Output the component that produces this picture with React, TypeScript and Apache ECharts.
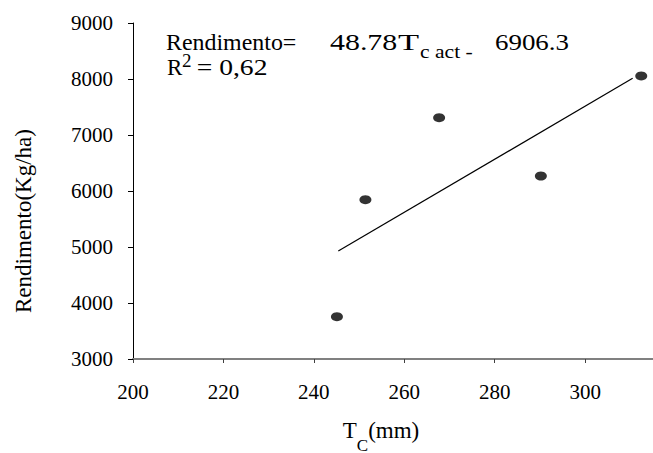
import React, { useEffect, useRef } from "react";
import * as echarts from "echarts";

const FONT = "Liberation Serif";

// Data
const tcValues = [245.1, 251.4, 267.7, 290.2, 312.4];
const yieldValues = [3755, 5845, 7309, 6268, 8054];
const trendX = [245.4, 310.5];
const trendY = [4929, 8012];
const xTickValues = [200, 220, 240, 260, 280, 300];

const yAxisTitle = "Rendimento(Kg/ha)";

export default function App() {
  const ref = useRef<HTMLDivElement>(null);

  useEffect(() => {
    if (!ref.current) return;
    const chart = echarts.init(ref.current, undefined, { renderer: "svg" });

    const scatterData = tcValues.map((x, i) => [x, yieldValues[i]]);
    const trendData = trendX.map((x, i) => [x, trendY[i]]);

    const t = (text: string, x: number, y: number, fontSize: number, scaleX = 1, lineHeight?: number) => ({
      type: "text",
      x,
      y,
      scaleX,
      style: {
        text,
        fontFamily: FONT,
        fontSize,
        lineHeight: lineHeight ?? fontSize,
        fill: "#000",
        align: "left",
        verticalAlign: "middle",
      },
    });

    chart.setOption({
      animation: false,
      backgroundColor: "#fff",
      grid: { left: 133, right: 0, top: 23, bottom: 94, outerBoundsMode: "none" },
      xAxis: {
        type: "value",
        min: 200,
        max: 315,
        axisLine: { show: true, onZero: false, lineStyle: { color: "#808080", width: 2 } },
        axisTick: { show: true, length: 4, lineStyle: { color: "#404040" }, customValues: xTickValues },
        axisLabel: {
          customValues: xTickValues,
          fontFamily: FONT,
          fontSize: 21,
          color: "#000",
          margin: 22,
          formatter: (v: number) => String(v),
        },
        splitLine: { show: false },
        name: "{t|T}{s|C}{t|(mm)}",
        nameLocation: "middle",
        nameGap: 54,
        nameTextStyle: {
          padding: [0, 24, 0, 0],
          rich: {
            t: { fontFamily: FONT, fontSize: 23, color: "#000", lineHeight: 23 },
            s: { fontFamily: FONT, fontSize: 17, color: "#000", lineHeight: 14, padding: [30, 0, 0, 0] },
          },
        },
      },
      yAxis: {
        type: "value",
        min: 3000,
        max: 9000,
        interval: 1000,
        axisLine: { show: true, lineStyle: { color: "#000", width: 1 } },
        axisTick: { show: true, length: 5, lineStyle: { color: "#000" } },
        axisLabel: {
          fontFamily: FONT,
          fontSize: 21,
          color: "#000",
          margin: 20,
          padding: [5, 0, 0, 0],
          formatter: (v: number) => String(v),
        },
        splitLine: { show: false },
        name: yAxisTitle,
        nameLocation: "middle",
        nameGap: 98,
        nameTextStyle: {
          fontFamily: FONT,
          fontSize: 23,
          color: "#000",
          padding: [0, 60, 0, 0],
        },
      },
      series: [
        {
          type: "scatter",
          data: scatterData,
          symbol: "circle",
          symbolSize: [12, 9],
          itemStyle: { color: "#000" },
        },
        {
          type: "line",
          data: trendData,
          showSymbol: false,
          symbol: "none",
          lineStyle: { color: "#000", width: 1.2 },
        },
      ],
      graphic: [
        t("Rendimento=", 166, 42.2, 23, 1.04, 18),
        t("48.78", 330, 42.2, 23, 1.3, 18),
        t("T", 398, 42.2, 23, 1.5, 18),
        t("c act -", 420, 51.9, 18, 1.2, 14),
        t("6906.3", 495, 42.2, 23, 1.17, 18),
        t("R", 167, 67.2, 23, 1, 18),
        t("2", 182, 60.2, 19, 1, 13),
        t("= 0,62", 196.7, 67.2, 23, 1.2, 18),
      ],
    });

    return () => chart.dispose();
  }, []);

  return (
    <div
      ref={ref}
      style={{ position: "fixed", left: 0, top: 0, width: 653, height: 453 }}
    />
  );
}
